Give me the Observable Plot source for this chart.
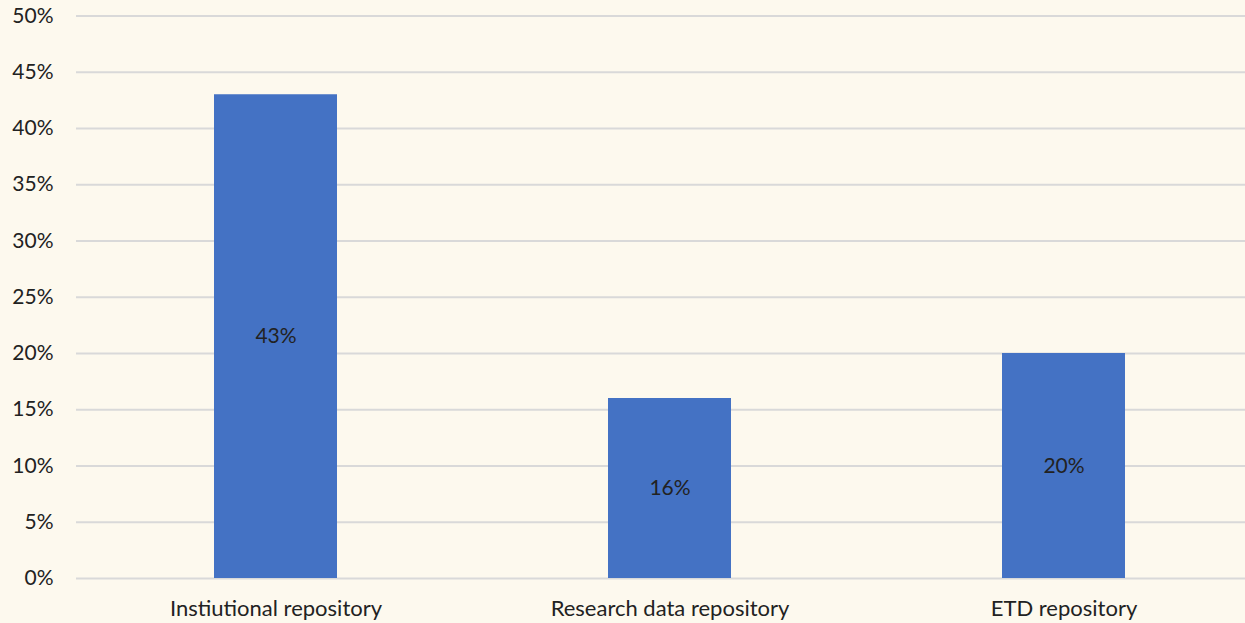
<!DOCTYPE html>
<html><head><meta charset="utf-8">
<script src="https://cdn.jsdelivr.net/npm/d3@7"></script>
<script src="https://cdn.jsdelivr.net/npm/@observablehq/plot@0.6"></script>
<style>
html,body{margin:0;padding:0;background:#fdf9ee;}
#chart svg{display:block;}
</style>
</head><body><div id="chart"></div>
<script>
const categories = ["Instiutional repository", "Research data repository", "ETD repository"];
const values = [0.43, 0.16, 0.20];
const yTicks = [0, 0.05, 0.10, 0.15, 0.20, 0.25, 0.30, 0.35, 0.40, 0.45, 0.50];

const data = categories.map((c, i) => ({category: c, value: values[i]}));
const font = "Lato, 'Open Sans', sans-serif";

const chart = Plot.plot({
  width: 1245,
  height: 623,
  marginTop: 15.5,
  marginBottom: 45,
  marginLeft: 76,
  marginRight: 0,
  style: {background: "#fdf9ee", fontFamily: font, fontSize: "21px", color: "#222", overflow: "visible"},
  x: {domain: categories, range: [77.5, 1261], paddingInner: 0.688, paddingOuter: 0.344, label: null},
  y: {domain: [0, 0.5], label: null},
  marks: [
    Plot.ruleY(yTicks, {stroke: "#d9d9d9", strokeWidth: 2}),
    Plot.barY(data, {x: "category", y: "value", fill: "#4472c4"}),
    Plot.text(data, {x: "category", y: d => d.value / 2, text: d => Math.round(d.value * 100) + "%", fill: "#222", fontSize: 21}),
    Plot.axisY({ticks: yTicks, tickFormat: d => Math.round(d * 100) + "%", tickSize: 0, tickPadding: 23, fontSize: 21, fill: "#222"}),
    Plot.axisX({tickSize: 0, tickPadding: 22, fontSize: 22, fill: "#222"})
  ]
});
document.getElementById("chart").appendChild(chart);
</script>
</body></html>
